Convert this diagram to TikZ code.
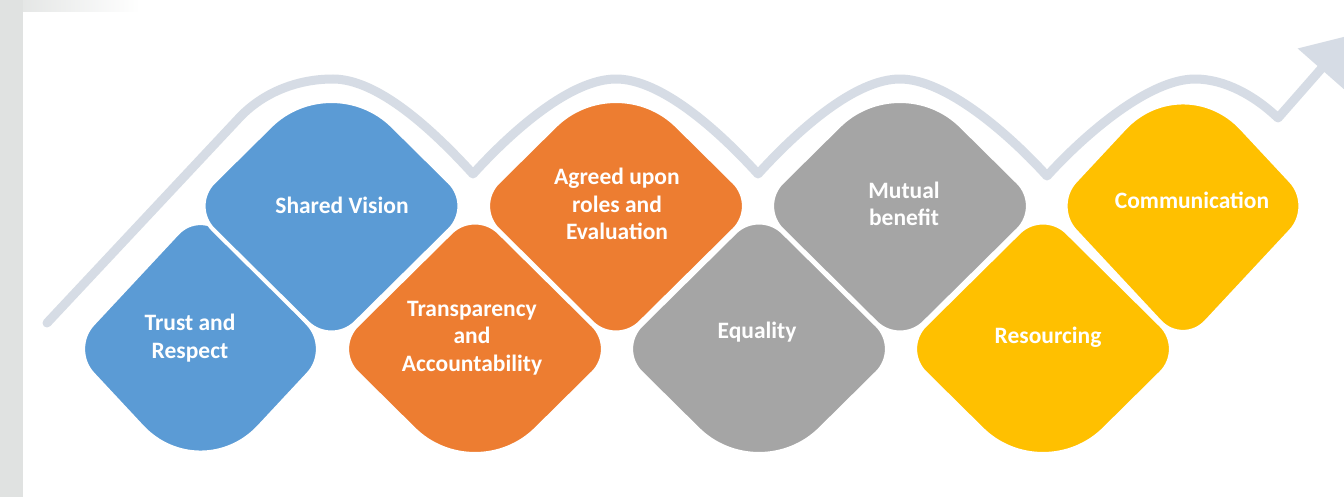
\documentclass[tikz,border=0pt]{standalone}
\usepackage{fontspec}
\setmainfont{Carlito}
\usetikzlibrary{calc}
\definecolor{cblue}{HTML}{5B9BD5}
\definecolor{corange}{HTML}{ED7D31}
\definecolor{cgray}{HTML}{A5A5A5}
\definecolor{cgold}{HTML}{FFC000}
\definecolor{wavecol}{HTML}{D6DCE5}
\definecolor{bggray}{HTML}{E0E2E1}
% rounded kite: #1 cx, #2 ym, #3 half width, #4 colour, #5-#8 corner distances T R B L
\newcommand\kite[8]{%
  \pgfmathsetmacro\cT{0.45*#5}\pgfmathsetmacro\cR{0.45*#6}%
  \pgfmathsetmacro\cB{0.45*#7}\pgfmathsetmacro\cL{0.45*#8}%
  \coordinate (kT) at (#1,#2-140.5);
  \coordinate (kR) at (#1+#3,#2);
  \coordinate (kB) at (#1,#2+140.5);
  \coordinate (kL) at (#1-#3,#2);
  \filldraw[fill=#4, draw=white, line width=4pt] ($(kT)!#5pt!(kL)$) .. controls ($(kT)!\cT pt!(kL)$) and ($(kT)!\cT pt!(kR)$) .. ($(kT)!#5pt!(kR)$)
    -- ($(kR)!#6pt!(kT)$) .. controls ($(kR)!\cR pt!(kT)$) and ($(kR)!\cR pt!(kB)$) .. ($(kR)!#6pt!(kB)$)
    -- ($(kB)!#7pt!(kR)$) .. controls ($(kB)!\cB pt!(kR)$) and ($(kB)!\cB pt!(kL)$) .. ($(kB)!#7pt!(kL)$)
    -- ($(kL)!#8pt!(kB)$) .. controls ($(kL)!\cL pt!(kB)$) and ($(kL)!\cL pt!(kT)$) .. ($(kL)!#8pt!(kT)$)
    -- cycle;
}
\tikzset{
  lbl/.style={text=white, font=\fontsize{23.5}{27.5}\selectfont\bfseries, align=center, inner sep=0pt},
  wave/.style={draw=wavecol, line width=9pt, line cap=round, line join=round}
}
\begin{document}
\begin{tikzpicture}[x=1pt,y=-1pt]
\useasboundingbox (0,0) rectangle (1344,497);
\clip (0,0) rectangle (1344,497);
\fill[white] (0,0) rectangle (1344,497);
\shade[left color=bggray, right color=white] (0,0) rectangle (140,12);
\fill[bggray] (0,0) rectangle (23,497);

% wave arrow
\coordinate (wstart) at (47,323);
\coordinate (wend) at (1321,69);
\draw[wave] (wstart) -- (240,117) .. controls (262,94) and (295,79) .. (333,79)
  .. controls (378,79) and (433,130) .. (473,174)
  .. controls (513,130) and (571,79) .. (616,79)
  .. controls (661,79) and (718,130) .. (758,174)
  .. controls (798,130) and (855,79) .. (900,79)
  .. controls (945,79) and (1007,132) .. (1047,176)
  .. controls (1087,132) and (1150,79) .. (1195,79)
  .. controls (1225,79) and (1255,96) .. (1278,118)
  -- (wend);
\fill[wavecol] (1297.7,48.5) -- (1350.7,35.2) -- (1344.3,89.5) -- cycle;

% shapes: top row ym=206 (big top corner), bottom row ym=349 (big bottom corner)
\kite{200.5}{349}{131}{cblue}{34}{34}{86}{34}
\kite{331.5}{206}{142.1}{cblue}{86}{34}{34}{34}
\kite{475}{349}{142.1}{corange}{34}{34}{86}{34}
\kite{616}{206}{142.1}{corange}{86}{34}{34}{34}
\kite{759}{349}{142.1}{cgray}{34}{34}{86}{34}
\kite{900}{206}{142.1}{cgray}{86}{34}{34}{34}
\kite{1043}{349}{142.1}{cgold}{34}{34}{86}{34}
\kite{1183}{206}{131}{cgold}{86}{34}{34}{34}

% labels
\node[lbl] (trust) at (190,338) {Trust and\\Respect};
\node[lbl] (vision) at (342,205) {Shared Vision};
\node[lbl] (transp) at (472,338) {Transparency\\and\\Accountability};
\node[lbl] (agreed) at (617,204) {Agreed upon\\roles and\\Evaluation};
\node[lbl] (equal) at (757,332) {Equality};
\node[lbl] (mutual) at (904,204) {Mutual\\benefit};
\node[lbl] (resource) at (1048,337) {Resourcing};
\node[lbl] (comm) at (1192,200) {Communication};
\end{tikzpicture}
\end{document}
